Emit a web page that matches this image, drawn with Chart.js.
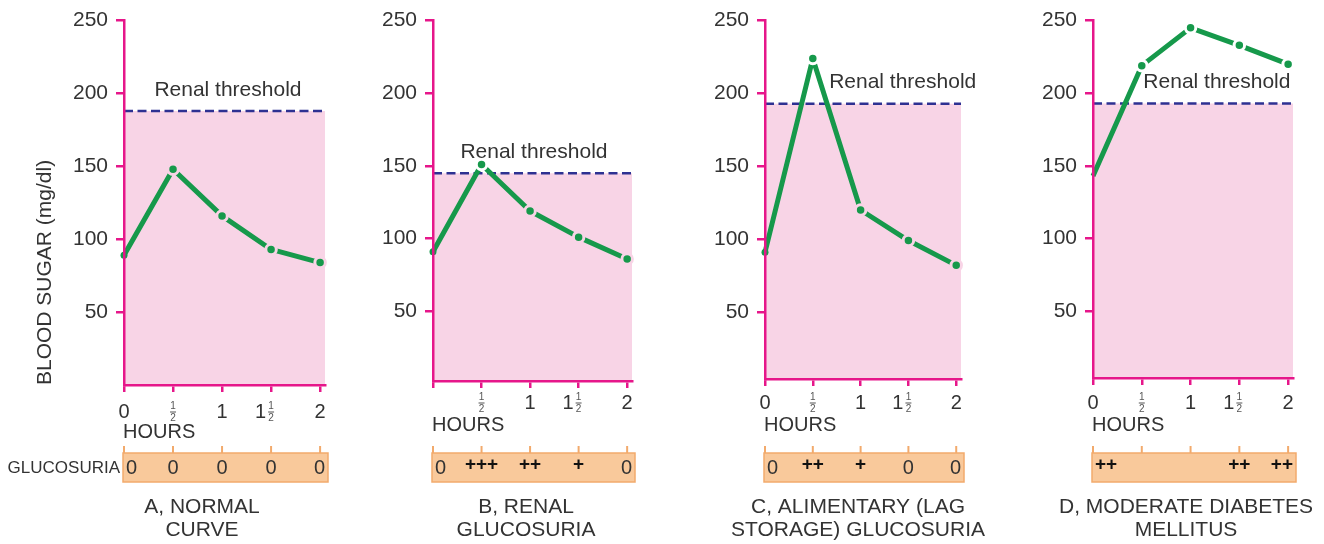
<!DOCTYPE html>
<html lang="en">
<head>
    <meta charset="UTF-8">
    <title>Glucose tolerance curves</title>
    <script src="https://cdn.jsdelivr.net/npm/chart.js@4"></script>
<style>
    body {
        margin: 0;
        background: #fff;
        font-family: Arial, "Liberation Sans", sans-serif;
    }
    .wrap {
        position: relative;
        width: 1324px;
        height: 544px;
    }
    .wrap canvas {
        position: absolute;
        top: 0;
    }
</style>
</head>
<body>

<div class="wrap">
    <canvas id="chartA"></canvas>
    <canvas id="chartB"></canvas>
    <canvas id="chartC"></canvas>
    <canvas id="chartD"></canvas>
</div>

<script>
    // values (blood sugar in mg/dl)
    const hours = [0, 0.5, 1, 1.5, 2];
    const yTicks = [50, 100, 150, 200, 250];

    const normalCurve = [89, 148, 116, 93, 84];
    const renalCurve = [91, 151, 119, 101, 86];
    const alimentaryCurve = [91, 224, 120, 99, 82];
    const diabetesCurve = [143, 219, 245, 233, 220];

    const renalThresholds = [188, 145, 193, 193];

    const tickLabelsA = ['0', '½', '1', '1½', '2'];
    const tickLabelsB = ['', '½', '1', '1½', '2'];
    const tickLabelsC = ['0', '½', '1', '1½', '2'];
    const tickLabelsD = ['0', '½', '1', '1½', '2'];

    const glucosuriaA = ['0', '0', '0', '0', '0'];
    const glucosuriaB = ['0', '+++', '++', '+', '0'];
    const glucosuriaC = ['0', '++', '+', '0', '0'];
    const glucosuriaD = ['++', '', '', '++', '++'];

    const captionA = ['A, NORMAL', 'CURVE'];
    const captionB = ['B, RENAL', 'GLUCOSURIA'];
    const captionC = ['C, ALIMENTARY (LAG', 'STORAGE) GLUCOSURIA'];
    const captionD = ['D, MODERATE DIABETES', 'MELLITUS'];

    const family = "Arial, 'Liberation Sans', sans-serif";
    const magenta = '#e6168a';
    const pinkFill = '#f8d4e6';
    const green = '#16994b';
    const navy = '#2e3192';
    const boxFill = '#f9c99b';
    const boxEdge = '#f2aa6c';
    const textColor = '#333333';
    const xMax = 2.05;

    const panels = [
        { id: 'chartA', left: 0, width: 335, padLeft: 33, axisWidth: 91, padRight: 10, bottom: 385, yMin: 0,
          curve: normalCurve, threshold: renalThresholds[0], tickLabels: tickLabelsA, glucosuria: glucosuriaA,
          caption: captionA, renalLabelAt: 1.06, captionDx: 78, labelY: 412, hoursY: 432, first: true, firstDot: true },
        { id: 'chartB', left: 340, width: 305, padLeft: 0, axisWidth: 93, padRight: 13, bottom: 381, yMin: 2,
          curve: renalCurve, threshold: renalThresholds[1], tickLabels: tickLabelsB, glucosuria: glucosuriaB,
          caption: captionB, renalLabelAt: 1.04, captionDx: 93, labelY: 403, hoursY: 425, first: false, firstDot: true },
        { id: 'chartC', left: 670, width: 325, padLeft: 0, axisWidth: 95, padRight: 34, bottom: 379, yMin: 4,
          curve: alimentaryCurve, threshold: renalThresholds[2], tickLabels: tickLabelsC, glucosuria: glucosuriaC,
          caption: captionC, renalLabelAt: 1.44, captionDx: 93, labelY: 403, hoursY: 425, first: false, firstDot: true },
        { id: 'chartD', left: 1000, width: 324, padLeft: 0, axisWidth: 93, padRight: 31, bottom: 378, yMin: 4,
          curve: diabetesCurve, threshold: renalThresholds[3], tickLabels: tickLabelsD, glucosuria: glucosuriaD,
          caption: captionD, renalLabelAt: 1.27, captionDx: 93, labelY: 403, hoursY: 425, first: false, firstDot: false }
    ];

    // hour label, with halves drawn as a small stacked fraction
    function drawHourLabel(ctx, label, px, py) {
        if (!label) return;
        ctx.textBaseline = 'middle';
        const frac = label.endsWith('½');
        const whole = frac ? label.slice(0, -1) : label;
        if (whole) {
            ctx.fillStyle = textColor;
            ctx.font = '20px ' + family;
            ctx.textAlign = frac ? 'right' : 'center';
            ctx.fillText(whole, frac ? px - 5 : px, py);
        }
        if (frac) {
            ctx.fillStyle = '#555';
            ctx.font = '10px ' + family;
            ctx.textAlign = 'center';
            ctx.fillText('1', px, py - 6);
            ctx.fillText('2', px, py + 6);
            ctx.fillRect(px - 3, py - 0.5, 6, 1);
        }
    }

    const panelExtras = {
        id: 'panelExtras',
        afterDraw(chart, args, opts) {
            const { ctx, chartArea } = chart;
            const x = chart.scales.x;
            const y = chart.scales.y;
            ctx.save();
            ctx.textBaseline = 'middle';

            // renal threshold label
            ctx.fillStyle = textColor;
            ctx.font = '21px ' + family;
            ctx.textAlign = 'center';
            ctx.fillText('Renal threshold', x.getPixelForValue(opts.renalLabelAt), y.getPixelForValue(opts.threshold) - 21);

            // hour labels + axis name
            opts.tickLabels.forEach((lab, i) => drawHourLabel(ctx, lab, x.getPixelForValue(hours[i]), opts.labelY));
            ctx.fillStyle = textColor;
            ctx.font = '20px ' + family;
            ctx.textAlign = 'left';
            ctx.fillText('HOURS', chartArea.left - 1, opts.hoursY);

            // glucosuria strip
            const bl = chartArea.left - 1;
            const br = chartArea.right + 3;
            ctx.strokeStyle = boxEdge;
            ctx.lineWidth = 2;
            hours.forEach(h => {
                const px = x.getPixelForValue(h);
                ctx.beginPath();
                ctx.moveTo(px, 446);
                ctx.lineTo(px, 453);
                ctx.stroke();
            });
            ctx.fillStyle = boxFill;
            ctx.fillRect(bl, 453, br - bl, 29);
            ctx.lineWidth = 1.5;
            ctx.strokeRect(bl, 453, br - bl, 29);

            if (opts.first) {
                ctx.fillStyle = textColor;
                ctx.font = '17px ' + family;
                ctx.textAlign = 'right';
                ctx.fillText('GLUCOSURIA', bl - 3, 468);
            }

            opts.glucosuria.forEach((g, i) => {
                if (!g) return;
                const plus = g.includes('+');
                ctx.font = plus ? 'bold 19px ' + family : '20px ' + family;
                ctx.fillStyle = plus ? '#111' : textColor;
                let px = x.getPixelForValue(hours[i]);
                let align = 'center';
                if (i === 0) { px = bl + 3; align = 'left'; }
                else if (i === hours.length - 1) { px = br - 3; align = 'right'; }
                ctx.textAlign = align;
                ctx.fillText(g, px, plus ? 465 : 468);
            });

            // caption
            ctx.fillStyle = textColor;
            ctx.font = '21px ' + family;
            ctx.textAlign = 'center';
            opts.caption.forEach((line, i) => ctx.fillText(line, chartArea.left + opts.captionDx, 507 + i * 23));
            ctx.restore();
        }
    };

    function createPanel(p) {
        const canvas = document.getElementById(p.id);
        canvas.width = p.width;
        canvas.height = 544;
        canvas.style.left = p.left + 'px';

        return new Chart(canvas.getContext('2d'), {
            type: 'line',
            data: {
                datasets: [{
                    label: 'Blood sugar',
                    data: hours.map((h, i) => ({ x: h, y: p.curve[i] })),
                    borderColor: green,
                    backgroundColor: green,
                    borderWidth: 5,
                    borderJoinStyle: 'bevel',
                    pointBackgroundColor: green,
                    pointBorderColor: c => (c.raw && c.raw.y > p.threshold) ? '#ffffff' : pinkFill,
                    pointRadius: c => c.dataIndex === 0 ? (p.firstDot ? 3.5 : 0) : 5.25,
                    pointBorderWidth: c => c.dataIndex === 0 ? 0 : 3,
                    tension: 0,
                    fill: false,
                    clip: false
                }, {
                    label: 'Renal threshold',
                    data: [{ x: 0, y: p.threshold }, { x: xMax, y: p.threshold }],
                    borderColor: navy,
                    borderWidth: 2.5,
                    borderDash: [9, 4.5],
                    backgroundColor: pinkFill,
                    fill: 'start',
                    pointRadius: 0
                }]
            },
            options: {
                responsive: false,
                animation: false,
                layout: { padding: { top: 16, left: p.padLeft, right: p.padRight, bottom: 0 } },
                plugins: {
                    legend: { display: false },
                    tooltip: { enabled: false },
                    panelExtras: p
                },
                scales: {
                    x: {
                        type: 'linear',
                        min: 0,
                        max: xMax,
                        afterBuildTicks: s => { s.ticks = hours.map(v => ({ value: v })); },
                        afterFit: s => { s.height = 544 - p.bottom; },
                        border: { color: magenta, width: 2.5, z: 1 },
                        grid: { drawOnChartArea: false, drawTicks: true, tickLength: 7, color: magenta, lineWidth: 2.5 },
                        ticks: { display: false }
                    },
                    y: {
                        type: 'linear',
                        min: p.yMin,
                        max: 250,
                        afterBuildTicks: s => { s.ticks = yTicks.map(v => ({ value: v })); },
                        afterFit: s => { s.width = p.axisWidth; },
                        border: { color: magenta, width: 2.5, z: 1 },
                        grid: { drawOnChartArea: false, drawTicks: true, tickLength: 8, color: magenta, lineWidth: 2.5 },
                        ticks: { color: textColor, font: { family: family, size: 21 }, padding: 8 },
                        title: {
                            display: p.first,
                            text: 'BLOOD SUGAR (mg/dl)',
                            align: 'start',
                            color: textColor,
                            font: { family: family, size: 21 },
                            padding: { top: 0, bottom: 0 }
                        }
                    }
                }
            },
            plugins: [panelExtras]
        });
    }

    panels.forEach(createPanel);
</script>

</body>
</html>
